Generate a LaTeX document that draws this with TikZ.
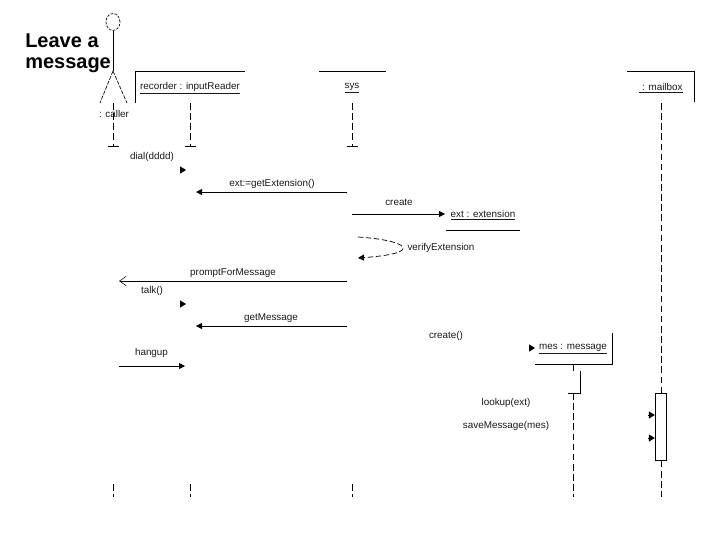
\documentclass[tikz,border=0pt]{standalone}
\usepackage{fontspec}
\setmainfont{Liberation Sans}
\usetikzlibrary{arrows.meta,shapes.geometric}
\tikzset{
  x=0.75pt,y=-0.75pt,
  line width=0.55pt,
  lbl/.style={inner sep=0pt,yshift=-0.8pt,font=\fontsize{7.4}{9}\selectfont,text=black!90},
  life/.style={dash pattern=on 5pt off 2.6pt,line width=0.6pt},
  solidline/.style={line width=0.6pt},
  msg/.style={solidline,-{Triangle[length=4.5pt,width=4.5pt]}},
  openmsg/.style={solidline,-{Straight Barb[length=5pt,width=7pt,line width=0.4pt]}},
  stubhead/.style={-{Triangle[length=4.5pt,width=5.5pt]},line width=0pt},
  foot/.style={line width=0.6pt}
}
\begin{document}
\begin{tikzpicture}
\useasboundingbox (0,0) rectangle (720,540);
% title
\node[inner sep=0pt,align=left,anchor=north west,font=\fontsize{15}{16.4}\selectfont\bfseries,text=black] (title) at (25,33) {Leave a\\message};
% actor
\node[draw,ellipse,dash pattern=on 2pt off 1pt,line width=.5pt,minimum width=10.5pt,minimum height=12.75pt,inner sep=0pt] (head) at (113,22) {};
\coordinate (hip) at (113,71);
\coordinate (legL) at (100,103);
\coordinate (legR) at (127,103);
\draw[solidline] (head.south) -- (hip);
\draw[dash pattern=on 3pt off 1pt,line width=.5pt] (hip) -- (legL) (hip) -- (legR);
% object boxes
\node[lbl] (rec) at (190,87) {\underline{recorder : inputReader}};
\node[lbl] (sys) at (352,87) {\underline{sys}};
\node[lbl] (mail) at (661,87) {\underline{\ : mailbox}};
\node[lbl] (ext) at (483,214) {\underline{ext : extension}};
\node[lbl] (mes) at (573,348) {\underline{mes : message}};
\coordinate (rA) at (135,103); \coordinate (rB) at (135,71); \coordinate (rC) at (245,71);
\draw[solidline] (rA) -- (rB) -- (rC);
\coordinate (sA) at (319,71); \coordinate (sB) at (386,71);
\draw[solidline] (sA) -- (sB);
\coordinate (mA) at (627,71); \coordinate (mB) at (694,71); \coordinate (mC) at (694,102);
\draw[solidline] (mA) -- (mB) -- (mC);
\coordinate (eA) at (446,230); \coordinate (eB) at (520,230);
\draw[solidline] (eA) -- (eB);
\coordinate (bA) at (535,364); \coordinate (bB) at (612,364); \coordinate (bC) at (612,333);
\draw[solidline] (bA) -- (bB) -- (bC);
% lifelines upper
\foreach \n/\x in {c/113.5,r/190,s/352}{
  \coordinate (\n top) at (\x,103);
  \coordinate (\n end) at (\x,146);
  \coordinate (\n fl) at (\x-5.5,146);
  \coordinate (\n fr) at (\x+5.5,146);
  \draw[life] (\n top) -- (\n end);
  \draw[foot] (\n fl) -- (\n fr);
  \coordinate (\n low) at (\x,484);
  \coordinate (\n lowe) at (\x,497);
  \draw[life] (\n low) -- (\n lowe);
}
\node[lbl] (caller) at (114,113) {: caller};
% mailbox lifeline and activation
\coordinate (mtop) at (661,103);
\node[draw,fill=white,line width=.6pt,minimum width=8.6pt,minimum height=50.2pt,inner sep=0pt,anchor=north] (act) at (661,393) {};
\coordinate (mend) at (661,497);
\draw[life] (mtop) -- (act.north);
\draw[life] (act.south) -- (mend);
% mes lifeline
\coordinate (mesb) at (573,364);
\coordinate (mesc) at (573,371);
\coordinate (mesd) at (573,393);
\coordinate (mese) at (573,497);
\draw[life] (mesb) -- (mesc);
\draw[life] (mesd) -- (mese);
\coordinate (fa) at (580,371); \coordinate (fb) at (580,393); \coordinate (fc) at (568,393);
\draw[solidline] (fa) -- (fb) -- (fc);
% messages
\node[lbl] (l1) at (152,156) {dial(dddd)};
\coordinate (a1) at (180,170); \coordinate (a1e) at (186,170);
\draw[stubhead] (a1) -- (a1e);
\node[lbl] (l2) at (272,183) {ext:=getExtension()};
\coordinate (a2) at (347,192); \coordinate (a2e) at (196,192);
\draw[msg] (a2) -- (a2e);
\node[lbl] (l3) at (399,201) {create};
\coordinate (a3) at (352,214); \coordinate (a3e) at (445,214);
\draw[msg] (a3) -- (a3e);
\coordinate (v1) at (358,237); \coordinate (v2) at (358,258);
\draw[dash pattern=on 4pt off 2pt,line width=.55pt,-{Triangle[length=4.5pt,width=4.5pt]}] (v1) .. controls (406,240) and (427,253) .. (v2);
\node[lbl] (l4) at (441,247) {verifyExtension};
\node[lbl] (l5) at (233,272) {promptForMessage};
\coordinate (a5) at (347,281); \coordinate (a5e) at (119,281);
\draw[openmsg] (a5) -- (a5e);
\node[lbl] (l6) at (152,290) {talk()};
\coordinate (a6) at (180,304); \coordinate (a6e) at (186,304);
\draw[stubhead] (a6) -- (a6e);
\node[lbl] (l7) at (271,317) {getMessage};
\coordinate (a7) at (347,326); \coordinate (a7e) at (196,326);
\draw[msg] (a7) -- (a7e);
\node[lbl] (l8) at (151.5,352) {hangup};
\coordinate (a8) at (119,366); \coordinate (a8e) at (185,366);
\draw[msg] (a8) -- (a8e);
\node[lbl] (l9) at (446,335) {create()};
\coordinate (a9) at (530,348); \coordinate (a9e) at (535,348);
\draw[stubhead] (a9) -- (a9e);
\node[lbl] (l10) at (506,402) {lookup(ext)};
\coordinate (a10) at (650,415);
\draw[stubhead] (a10) -- (a10 -| act.west);
\node[lbl] (l11) at (506,425) {saveMessage(mes)};
\coordinate (a11) at (650,438);
\draw[stubhead] (a11) -- (a11 -| act.west);
\end{tikzpicture}
\end{document}
